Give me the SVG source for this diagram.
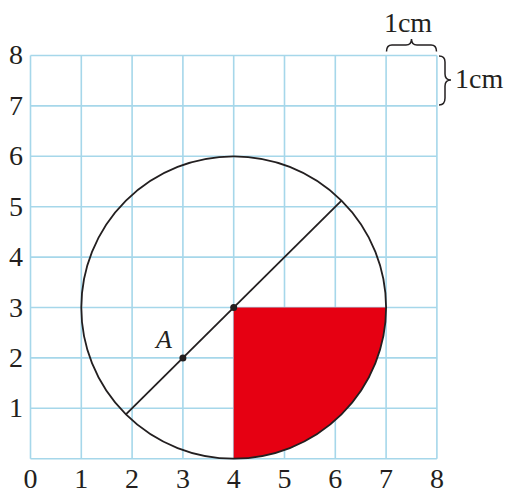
<svg xmlns="http://www.w3.org/2000/svg" width="506" height="491" viewBox="0 0 506 491">
<style>
.grid{stroke:#a6d7ea;stroke-width:1.6;fill:none}
.lbl{font-family:"Liberation Serif","Times New Roman",serif;font-size:28px;fill:#231f20}
.ax{text-anchor:middle}
.ink{stroke:#231f20;stroke-width:1.8;fill:none}
</style>
<rect width="506" height="491" fill="#fff"/>
<g id="grid" class="grid">
<path d="M30.5,55.5V458.7M81.3,55.5V458.7M132.1,55.5V458.7M182.9,55.5V458.7M233.7,55.5V458.7M284.5,55.5V458.7M335.3,55.5V458.7M386.1,55.5V458.7M436.9,55.5V458.7"/>
<path d="M30.5,458.7H436.9M30.5,408.3H436.9M30.5,357.9H436.9M30.5,307.5H436.9M30.5,257.1H436.9M30.5,206.7H436.9M30.5,156.3H436.9M30.5,105.9H436.9M30.5,55.5H436.9"/>
</g>
<g id="sector">
<path d="M233.7,307.5H386.1A152.4,151.2 0 0 1 233.7,458.7Z" fill="#e60012"/>
</g>
<g id="circle">
<ellipse class="ink" cx="233.7" cy="307.5" rx="152.4" ry="151.2"/>
</g>
<g id="connectors">
<line class="ink" x1="125.9" y1="414.4" x2="341.5" y2="200.6"/>
</g>
<g id="points" fill="#231f20">
<circle cx="233.7" cy="307.5" r="3.5"/>
<circle cx="182.9" cy="357.9" r="3.5"/>
</g>
<text class="lbl" x="156" y="348" style="font-style:italic;font-size:26px">A</text>
<g id="yaxis" class="lbl ax">
<text x="16" y="417">1</text>
<text x="16" y="367">2</text>
<text x="16" y="317">3</text>
<text x="16" y="266">4</text>
<text x="16" y="216">5</text>
<text x="16" y="165">6</text>
<text x="16" y="115">7</text>
<text x="16" y="64">8</text>
</g>
<g id="xaxis" class="lbl ax">
<text x="30.5" y="488">0</text>
<text x="81.3" y="488">1</text>
<text x="132.1" y="488">2</text>
<text x="182.9" y="488">3</text>
<text x="233.7" y="488">4</text>
<text x="284.5" y="488">5</text>
<text x="335.3" y="488">6</text>
<text x="386.1" y="488">7</text>
<text x="436.9" y="488">8</text>
</g>
<g id="scale">
<path class="ink" style="stroke-width:1.5" d="M386.5,51.5Q386.5,45 392,45H406Q411.5,45 411.5,39Q411.5,45 417,45H431Q436.5,45 436.5,51.5"/>
<path class="ink" style="stroke-width:1.5" d="M439,56Q445,56 445,62V74Q445,80 451,80Q445,80 445,86V98Q445,105 439,105"/>
<text class="lbl ax" x="408" y="32">1cm</text>
<text class="lbl" x="455" y="88">1cm</text>
</g>
</svg>
